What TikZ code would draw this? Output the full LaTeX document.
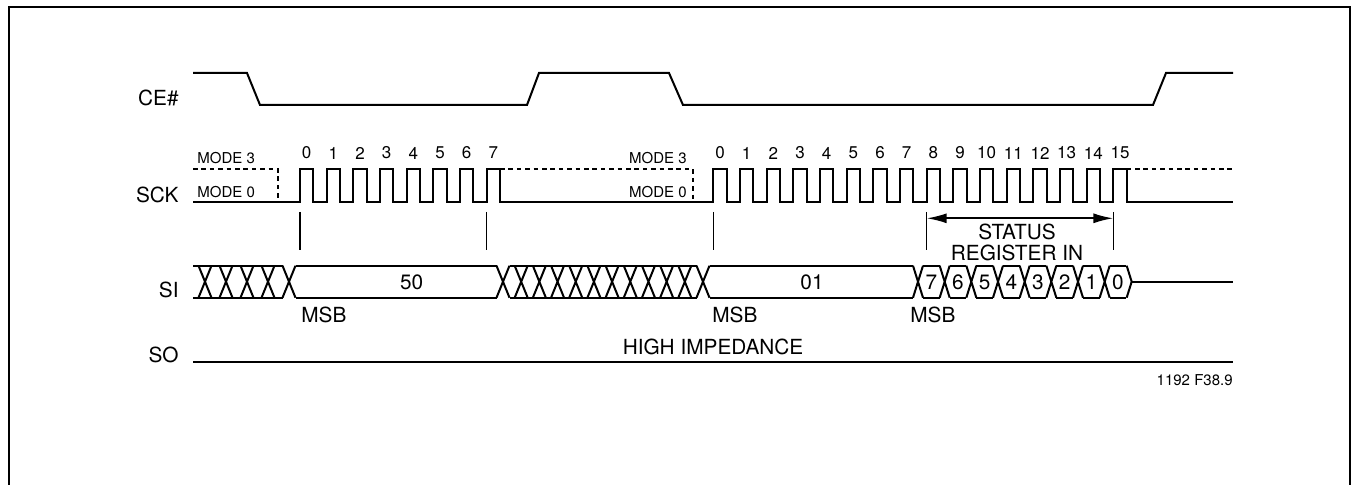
\documentclass[tikz,border=0pt]{standalone}
\usepackage{fontspec}
\setmainfont{TeX Gyre Heros}
\usetikzlibrary{arrows.meta}

\begin{document}
\begin{tikzpicture}[
    x=0.5pt, y=-0.5pt,
    wave/.style={line width=1pt, line join=miter},
    modeline/.style={line width=0.9pt, dash pattern=on 2.3pt off 1.9pt},
    tickline/.style={line width=0.8pt},
    frameline/.style={line width=1pt},
    sigtext/.style={inner sep=0pt, font=\fontsize{10.4}{10.8}\selectfont},
    cknum/.style={inner sep=0pt, font=\fontsize{8.5}{10}\selectfont},
    smalltext/.style={inner sep=0pt, font=\fontsize{7.5}{9}\selectfont},
    statarrow/.style={{Latex[length=10pt,width=5pt]}-{Latex[length=10pt,width=5pt]}, line width=0.9pt}
]
    \useasboundingbox (0,0) rectangle (1351,485);

    % Frame
    \draw[frameline] (8.5,485) -- (8.5,7) -- (1349.5,7) -- (1349.5,485);

    % Signal names
    \node[sigtext, anchor=east] (ce)  at (179,98)  {CE\#};
    \node[sigtext, anchor=east] (sck) at (179,195) {SCK};
    \node[sigtext, anchor=east] (si)  at (179,290) {SI};
    \node[sigtext, anchor=east] (so)  at (179,355) {SO};

    % CE#
    \draw[wave] (193,73) -- (247,73) -- (260,105) -- (527,105) -- (539,73) -- (669,73)
        -- (683,105) -- (1153,105) -- (1166,73) -- (1233,73);

    % SCK
    \draw[wave] (193,202)
        foreach \k in {0,...,7} { -- ({300+26.667*\k},202) -- ++(0,-33) -- ++(13.333,0) -- ++(0,33) }
        -- (713.333,202)
        foreach \k in {0,...,15} { -- ({713.333+26.667*\k},202) -- ++(0,-33) -- ++(13.333,0) -- ++(0,33) }
        -- (1233,202);
    \draw[modeline] (193,169) -- (278,169) -- (278,202);
    \draw[modeline] (500,169) -- (692.7,169) -- (692.7,202);
    \draw[modeline] (1126.667,169) -- (1233,169);

    \node[smalltext, anchor=west] (mthreeA) at (197,158) {MODE 3};
    \node[smalltext, anchor=west] (mzeroA)  at (197,192) {MODE 0};
    \node[smalltext, anchor=east] (mthreeB) at (687,158) {MODE 3};
    \node[smalltext, anchor=east] (mzeroB)  at (687,192) {MODE 0};

    % Clock numbers
    \foreach \k in {0,...,7}
        \node[cknum] (cka\k) at ({306.667+26.667*\k},153) {\k};
    \foreach \k in {0,...,15}
        \node[cknum] (ckb\k) at ({720+26.667*\k},153) {\k};

    % Ticks
    \foreach \x [count=\i] in {300,486.667,713.333,926.667,1113.333} {
        \coordinate (tka\i) at (\x,212);
        \coordinate (tkb\i) at (\x,250);
        \draw[tickline] (tka\i) -- (tkb\i);
    }

    % Status register arrow
    \coordinate (stl) at (926.667,218.3);
    \coordinate (str) at (1113.333,218.3);
    \draw[statarrow] (stl) -- (str);
    \node[sigtext, align=center] (status) at (1017,242.5) {STATUS\\REGISTER IN};

    % SI bus
    \draw[wave] (193,265.7) -- (282.5,265.7) (295.5,265.7) -- (496.5,265.7)
        (509.5,265.7) -- (696.5,265.7) (709.5,265.7) -- (913,265.7);
    \draw[wave] (193,297.7) -- (282.5,297.7) (295.5,297.7) -- (496.5,297.7)
        (509.5,297.7) -- (696.5,297.7) (709.5,297.7) -- (913,297.7);
    \foreach \c in {205,226,247,268,289}
        \draw[wave] ({\c-6.5},265.7) -- ({\c+6.5},297.7) ({\c-6.5},297.7) -- ({\c+6.5},265.7);
    \foreach \k [evaluate=\k as \c using 503+18.182*\k] in {0,...,11}
        \draw[wave] ({\c-6.5},265.7) -- ({\c+6.5},297.7) ({\c-6.5},297.7) -- ({\c+6.5},265.7);
    \foreach \k [evaluate=\k as \c using 918+26.667*\k] in {0,...,7} {
        \draw[wave] ({\c-5},265.7) -- ({\c+5},297.7) ({\c-5},297.7) -- ({\c+5},265.7);
        \draw[wave] ({\c+5},265.7) -- ({\c+21.667},265.7) ({\c+5},297.7) -- ({\c+21.667},297.7);
    }
    \draw[wave] (1126.667,265.7) -- (1131.667,281.7) -- (1126.667,297.7);
    \draw[wave] (1131.667,281.7) -- (1233,281.7);

    \node[sigtext] (dfifty) at (411.7,282) {50};
    \node[sigtext] (done)   at (812,282)   {01};
    \foreach \d [count=\i from 0] in {7,6,5,4,3,2,1,0}
        \node[sigtext] (hex\d) at ({931.333+26.667*\i},282) {\d};

    \node[sigtext, anchor=west] (msba) at (301,315) {MSB};
    \node[sigtext, anchor=west] (msbb) at (712,315) {MSB};
    \node[sigtext, anchor=west] (msbc) at (910,315) {MSB};

    % SO
    \node[sigtext] (hiz) at (713,347) {HIGH IMPEDANCE};
    \draw[wave] (193,361.7) -- (1233,361.7);

    \node[smalltext, anchor=east] (figno) at (1233,380) {1192 F38.9};
\end{tikzpicture}
\end{document}
